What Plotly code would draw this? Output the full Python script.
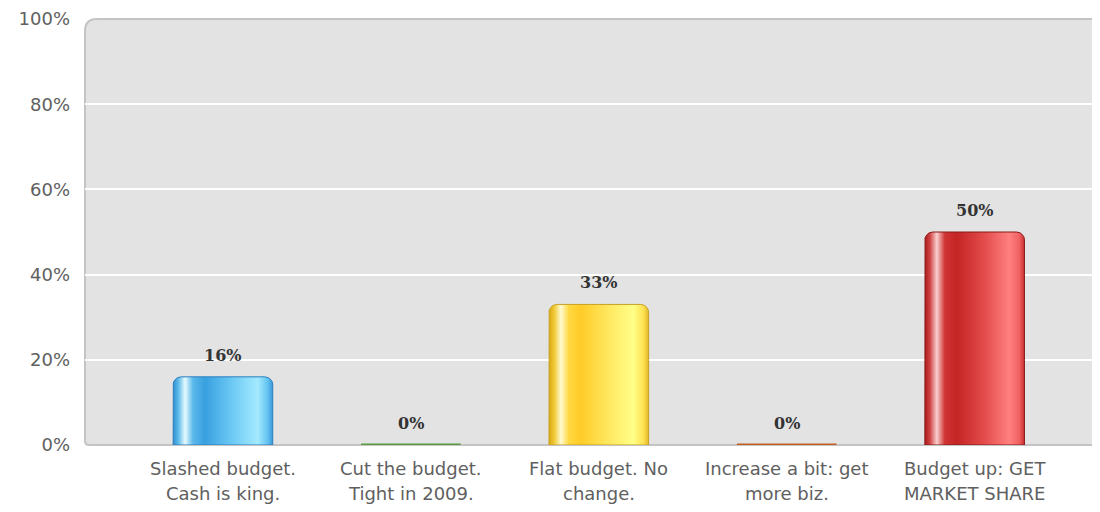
import numpy as np
import plotly.graph_objects as go

# survey answers and share of votes (percent)
categories = [
    "Slashed budget.<br>Cash is king.",
    "Cut the budget.<br>Tight in 2009.",
    "Flat budget. No<br>change.",
    "Increase a bit: get<br>more biz.",
    "Budget up: GET<br>MARKET SHARE",
]
values = [16, 0, 33, 0, 50]
y_ticks = [0, 20, 40, 60, 80, 100]
y_tick_text = [f"{t}%" for t in y_ticks]

# horizontal "glass" gradients per bar
gradients = [
    [[0, "#2f8fcf"], [0.05, "#5ab8e8"], [0.12, "#e6faff"], [0.2, "#5ab8ea"],
     [0.32, "#38a0e0"], [0.6, "#6ecaf4"], [0.85, "#a4eaff"], [0.95, "#62c2f0"], [1, "#3a98d8"]],
    [[0, "#5a9a40"], [0.15, "#d8f0c8"], [0.3, "#6ab04c"], [0.85, "#a8e090"], [1, "#5a9a40"]],
    [[0, "#d8a818"], [0.05, "#f0c830"], [0.12, "#fffad0"], [0.2, "#ffd840"],
     [0.32, "#ffcc28"], [0.6, "#ffe860"], [0.85, "#ffff88"], [0.95, "#ffe050"], [1, "#e0b828"]],
    [[0, "#c06020"], [0.15, "#f8d0b0"], [0.3, "#d87838"], [0.85, "#f0a070"], [1, "#c06020"]],
    [[0, "#a81c1c"], [0.05, "#d04040"], [0.12, "#fad0d0"], [0.2, "#d03434"],
     [0.32, "#c42424"], [0.6, "#e44c4c"], [0.85, "#ff8080"], [0.95, "#f06060"], [1, "#c83030"]],
]
outlines = ["#2a7fbf", "#5a9a40", "#c8a020", "#c06020", "#8a1818"]

# the page body has an 8px margin, so the figure is drawn from (8, 8)
OFF = 8
W, H = 1100 - OFF, 512 - OFF
M_L, M_R, M_T, M_B = 85 - OFF, 0, 17 - OFF, 67
plot_w = W - M_L - M_R
plot_h = H - M_T - M_B
x_range = [-0.734, 4.667]
px_per_x = plot_w / (x_range[1] - x_range[0])
px_per_y = plot_h / 100.0

bar_w = 0.53
corner_px = 8


def bar_outline(xc, v):
    """Closed outline of a bar with rounded top corners (data coords)."""
    h = bar_w / 2
    rx = corner_px / px_per_x
    ry = min(corner_px / px_per_y, v)
    t = np.linspace(0, np.pi / 2, 8)
    xs = [xc - h]
    ys = [0]
    # left top corner
    xs += list(xc - h + rx - rx * np.cos(t))
    ys += list(v - ry + ry * np.sin(t))
    # right top corner
    xs += list(xc + h - rx + rx * np.sin(t))
    ys += list(v - ry + ry * np.cos(t))
    xs += [xc + h, xc - h]
    ys += [0, 0]
    return xs, ys


fig = go.Figure()

for i, v in enumerate(values):
    xs, ys = bar_outline(i, v)
    fig.add_trace(go.Scatter(
        x=xs, y=ys, mode="lines", fill="toself",
        fillgradient=dict(type="horizontal", colorscale=gradients[i]),
        line=dict(color=outlines[i], width=1 if v > 0 else 3),
        hoverinfo="skip", showlegend=False,
    ))
    fig.add_annotation(
        x=i, y=v, xref="x", yref="y", text=f"<b>{v}%</b>", showarrow=False,
        yanchor="bottom", yshift=10,
        font=dict(family="DejaVu Serif", size=16, color="#333333"),
    )

# two-line category labels
for i, cat in enumerate(categories):
    for j, line in enumerate(cat.split("<br>")):
        fig.add_annotation(
            x=i, y=-(24 + 25 * j) / plot_h, xref="x", yref="paper",
            text=line, showarrow=False, yanchor="middle",
            font=dict(family="DejaVu Sans", size=18, color="#606060"),
        )

# grey plot panel with rounded left corners
rx_p, ry_p = 12 / plot_w, 12 / plot_h
rb_x, rb_y = 4 / plot_w, 4 / plot_h
panel = (f"M 0,{rb_y} L 0,{1 - ry_p} Q 0,1 {rx_p},1 L 1.05,1 L 1.05,0 "
         f"L {rb_x},0 Q 0,0 0,{rb_y} Z")
fig.add_shape(type="path", path=panel, xref="paper", yref="paper",
              fillcolor="#e3e3e3", line=dict(color="#c4c4c4", width=2), layer="below")

fig.update_layout(
    width=W, height=H,
    margin=dict(l=M_L, r=M_R, t=M_T, b=M_B),
    paper_bgcolor="white", plot_bgcolor="rgba(0,0,0,0)",
    showlegend=False,
    xaxis=dict(range=x_range, showgrid=False, zeroline=False, showticklabels=False,
               fixedrange=True),
    yaxis=dict(range=[0, 100], tickmode="array", tickvals=y_ticks, ticktext=y_tick_text,
               showgrid=True, gridcolor="white", gridwidth=1.5, zeroline=False,
               ticks="", ticklabelstandoff=14, ticklabeloverflow="allow",
               tickfont=dict(family="DejaVu Sans", size=18, color="#606060")),
)

fig.write_html("out.html")
